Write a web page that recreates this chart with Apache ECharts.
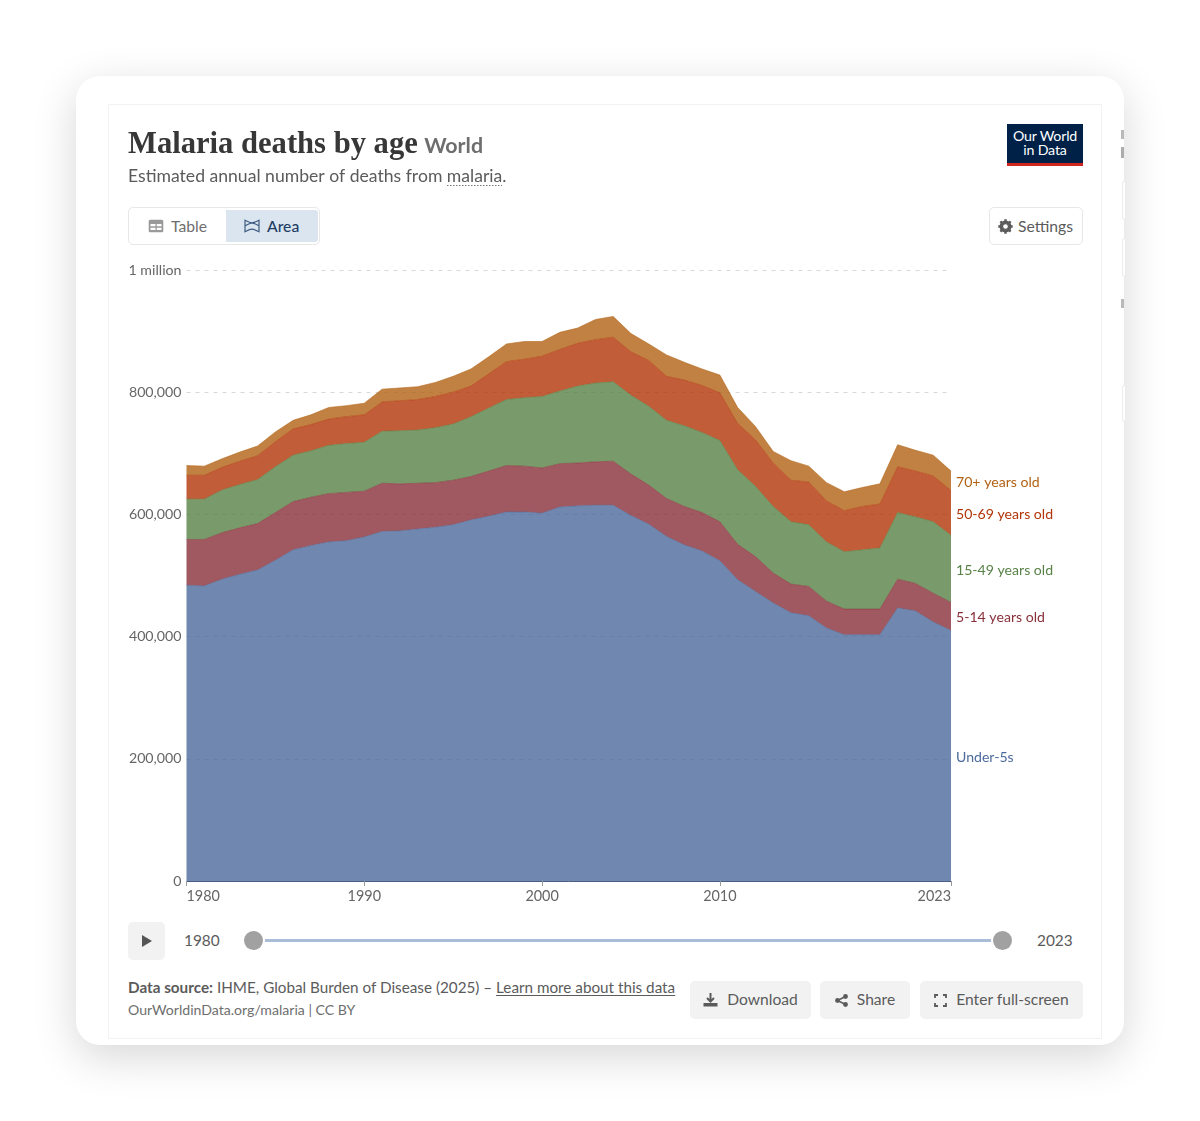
<!DOCTYPE html>
<html><head><meta charset="utf-8">
<script src="https://cdn.jsdelivr.net/npm/echarts@6/dist/echarts.min.js"></script>
<style>
html,body{margin:0;padding:0;background:#fff;width:1200px;height:1121px;overflow:hidden;font-family:Lato,sans-serif;color:#5b5b5b}
#card{position:absolute;left:76px;top:76px;width:1048px;height:969px;background:#fff;border-radius:24px;box-shadow:0 12px 44px rgba(0,0,0,.16);overflow:hidden}
#frame{position:absolute;left:108px;top:104px;width:994px;height:935px;border:1px solid #f2f2f2;box-sizing:border-box}
#chart{position:absolute;left:0;top:0;width:1200px;height:1121px}
.abs{position:absolute;white-space:nowrap;box-sizing:border-box}
.btn{background:#f2f2f2;border-radius:5px;height:38px;display:flex;align-items:center;justify-content:center;font-size:15.6px;color:#5b5b5b;padding-bottom:3px}
.btn svg{margin-right:9px;margin-top:3px}
.side{position:absolute;background:#fff;border:1px solid #ececec;border-right:none;left:1122px;width:2px;border-radius:4px 0 0 4px}
.mark{position:absolute;background:#8a8a8a;left:1121px;width:3px}
</style></head><body>
<div id="card"></div>
<div id="frame"></div>
<div class="mark" style="top:130px;height:9px;opacity:.6"></div>
<div class="mark" style="top:147px;height:11px;opacity:.7"></div>
<div class="mark" style="top:299px;height:9px;opacity:.6"></div>
<div class="side" style="top:181px;height:37px"></div>
<div class="side" style="top:238px;height:37px"></div>
<div class="side" style="top:385px;height:35px"></div>

<div class="abs" style="left:1007px;top:124px;width:76px;height:42px;background:#002147;border-bottom:3px solid #ce261e;color:#fff;font-size:14.2px;line-height:14px;text-align:center;padding-top:5px;font-weight:400;letter-spacing:-.2px">Our World<br>in Data</div>

<div class="abs" style="left:128px;top:207px;width:192px;height:38px;border:1px solid #e7e7e7;border-radius:5px;background:#fff"></div>
<div class="abs" style="left:226px;top:210px;width:92px;height:32px;background:#dbe5f0;border-radius:0 3px 3px 0"></div>
<svg class="abs" style="left:148px;top:219px" width="16" height="14" viewBox="0 0 16 14"><rect x="0.7" y="0.7" width="14.6" height="12.6" rx="1.5" fill="#9a9a9a"/><path d="M2.5 5h5v2.3h-5zM8.8 5h4.7v2.3H8.8zM2.5 8.7h5V11h-5zM8.8 8.7h4.7V11H8.8z" fill="#fff"/></svg>
<div class="abs" style="left:171px;top:215.5px;font-size:15.7px;line-height:20px;color:#6e6e6e">Table</div>
<svg class="abs" style="left:244px;top:219px" width="16" height="14" viewBox="0 0 16 14"><path d="M1 1.2c3 1.6 4.5 2.6 7 2.6s4-1 7-2.6v11.6c-3-1.6-4.5-2.6-7-2.6s-4 1-7 2.6zM1 7c3-1.8 4.5-2.8 7-3.2 2.5.4 4 1.4 7 3.2" fill="none" stroke="#3d5a80" stroke-width="1.2"/></svg>
<div class="abs" style="left:267px;top:215.5px;font-size:15.7px;line-height:20px;color:#1d3d63;font-weight:500">Area</div>

<div class="abs" style="left:989px;top:207px;width:94px;height:38px;border:1px solid #e7e7e7;border-radius:5px;background:#fff"></div>
<svg class="abs" style="left:998px;top:218.5px" width="15" height="15" viewBox="0 0 15 15"><circle cx="7.5" cy="7.5" r="4.6" fill="none" stroke="#5b5b5b" stroke-width="2.8"/><path d="M7.5 0.3v14.4M0.3 7.5h14.4M2.4 2.4l10.2 10.2M12.6 2.4L2.4 12.6" stroke="#5b5b5b" stroke-width="2.4"/><circle cx="7.5" cy="7.5" r="2.3" fill="#fff"/></svg>
<div class="abs" style="left:1018px;top:215.5px;font-size:15.7px;line-height:20px;color:#5b5b5b">Settings</div>

<div class="abs btn" style="left:128px;top:922px;width:37px;height:38px;padding:0"><svg width="12" height="14" viewBox="0 0 12 14" style="margin:0"><path d="M1 1l10 6-10 6z" fill="#555"/></svg></div>
<div class="abs" style="left:184px;top:930px;font-size:15.4px;line-height:20px">1980</div>
<div class="abs" style="left:265px;top:939px;width:726px;height:3px;background:#a9bcd8"></div>
<div class="abs" style="left:244px;top:931px;width:19px;height:19px;border-radius:50%;background:#a1a1a1"></div>
<div class="abs" style="left:993px;top:931px;width:19px;height:19px;border-radius:50%;background:#a1a1a1"></div>
<div class="abs" style="left:1037px;top:930px;font-size:15.4px;line-height:20px">2023</div>

<div class="abs" style="left:128px;top:977px;font-size:15.25px;line-height:20px;color:#5b5b5b"><b style="font-weight:700">Data source:</b> IHME, Global Burden of Disease (2025) – <u style="text-underline-offset:2px">Learn more about this data</u></div>
<div class="abs" style="left:128px;top:1000px;font-size:14.1px;line-height:20px;color:#6e6e6e">OurWorldinData.org/malaria | CC BY</div>

<div class="abs btn" style="left:690px;top:981px;width:121px"><svg width="15" height="14" viewBox="0 0 15 14"><path d="M7.5 0v8M4 5l3.5 3.5L11 5" fill="none" stroke="#5b5b5b" stroke-width="2"/><path d="M.5 10h14v3.5H.5z" fill="#5b5b5b"/></svg>Download</div>
<div class="abs btn" style="left:820px;top:981px;width:90px"><svg width="13" height="13" viewBox="0 0 13 13"><circle cx="2.5" cy="6.5" r="2.4" fill="#5b5b5b"/><circle cx="10.5" cy="2.5" r="2.4" fill="#5b5b5b"/><circle cx="10.5" cy="10.5" r="2.4" fill="#5b5b5b"/><path d="M2.5 6.5l8-4M2.5 6.5l8 4" stroke="#5b5b5b" stroke-width="1.4"/></svg>Share</div>
<div class="abs btn" style="left:920px;top:981px;width:163px"><svg width="13" height="13" viewBox="0 0 13 13"><path d="M1 4V1h3M9 1h3v3M12 9v3H9M4 12H1V9" fill="none" stroke="#5b5b5b" stroke-width="1.8"/></svg>Enter full-screen</div>

<div id="chart"></div>
<script>
const years = [];
for (let y = 1980; y <= 2023; y++) years.push(String(y));

const under5 = [484,483,494,502,509,525,542,549,555,557,563,572,573,576,579,583,591,597,604,604,602,612,614,615,615,598,584,564,550,540,524,493,474,455,439,434,414,403,403,403,447,442,424,410];
const age5to14 = [75,76,76,76,76,78,79,79,79,79,75,79,77,75,73,73,71,74,76,75,74,71,70,71,72,68,64,62,63,63,64,58,57,49,47,48,44,42,42,42,47,45,47,46];
const age15to49 = [66,66,70,71,72,75,76,76,79,80,80,85,87,87,90,92,98,103,108,112,117,119,126,129,130,129,129,128,132,131,133,122,115,109,102,101,97,94,97,100,109,109,117,110];
const age50to69 = [39,39,37,38,39,41,43,43,43,44,45,48,49,50,51,52,50,56,62,63,66,68,70,71,73,71,75,72,75,77,78,76,76,71,68,70,67,67,71,72,75,75,75,73];
const age70plus = [16,15,14,15,16,16,14,16,19,18,19,21,21,21,23,26,28,28,29,29,24,28,25,33,34,30,27,35,29,27,29,26,22,19,32,26,30,31,31,33,36,34,34,32];

const seriesNames = ['Under-5s','5-14 years old','15-49 years old','50-69 years old','70+ years old'];
const seriesColors = ['#4C6A9C','#883039','#578145','#B13507','#B16214'];
const seriesValues = [under5, age5to14, age15to49, age50to69, age70plus];
const xTickLabels = ['1980','1990','2000','2010','2023'];

const GRID = {left:186.5, right:249, top:270, bottom:240};
const plotH = 1121 - GRID.top - GRID.bottom;
const yMax = 1000000;
const showTick = (i, v) => xTickLabels.includes(v);

const chart = echarts.init(document.getElementById('chart'), null, {renderer:'canvas', width:1200, height:1121});
chart.setOption({
  animation:false,
  backgroundColor:'transparent',
  textStyle:{fontFamily:'Lato'},
  title:{
    left:128, top:125, padding:0, itemGap:10,
    text:'{a|Malaria deaths by age} {b|World}',
    textStyle:{rich:{
      a:{fontFamily:'"Liberation Serif"',fontWeight:'bold',fontSize:30.6,color:'#373737',lineHeight:40},
      b:{fontFamily:'Lato',fontWeight:'bold',fontSize:21.4,color:'#6e6e6e',lineHeight:40,padding:[3,0,0,2]}
    }},
    subtext:'Estimated annual number of deaths from malaria.',
    subtextStyle:{fontFamily:'Lato',fontSize:17.6,color:'#5b5b5b',lineHeight:20}
  },
  grid:GRID,
  xAxis:{
    type:'category', data:years, boundaryGap:false,
    axisLine:{show:true,lineStyle:{color:'#4a5f86',width:1}},
    axisTick:{show:true,length:5,alignWithLabel:true,lineStyle:{color:'#999'},interval:showTick},
    axisLabel:{
      interval:showTick,
      fontFamily:'Lato',fontSize:14.4,color:'#666',margin:8,
      alignMinLabel:'left',alignMaxLabel:'right',hideOverlap:false
    },
    splitLine:{show:false}
  },
  yAxis:{
    type:'value', min:0, max:yMax, interval:200000,
    axisLine:{show:false}, axisTick:{show:false},
    axisLabel:{
      fontFamily:'Lato',fontSize:14.2,color:'#666',margin:5,
      formatter:v=> v===1000000 ? '1 million' : v.toLocaleString('en-US')
    },
    splitLine:{show:true,lineStyle:{color:'#d8d8d8',type:[4,5],width:1}}
  },
  series:seriesNames.map((name,i)=>{
    const vals = seriesValues[i];
    const last = vals[vals.length-1]*1000;
    return {
      name, type:'line', stack:'total', showSymbol:false, symbol:'none',
      data:vals.map(v=>v*1000),
      lineStyle:{color:seriesColors[i],width:0.8,opacity:0.7},
      itemStyle:{color:seriesColors[i]},
      areaStyle:{color:seriesColors[i],opacity:0.8},
      z:2,
      endLabel:{
        show:true, formatter:name, distance:5,
        fontFamily:'Lato',fontSize:14.1,color:seriesColors[i],
        offset:[0,(last/yMax*plotH)/2+1.5]
      }
    };
  }),
  graphic:[{
    type:'line', z:10,
    shape:{x1:447,y1:185.5,x2:502,y2:185.5},
    style:{stroke:'#777',lineWidth:1,lineDash:[1.5,1.5]}
  }]
});
</script>
</body></html>
